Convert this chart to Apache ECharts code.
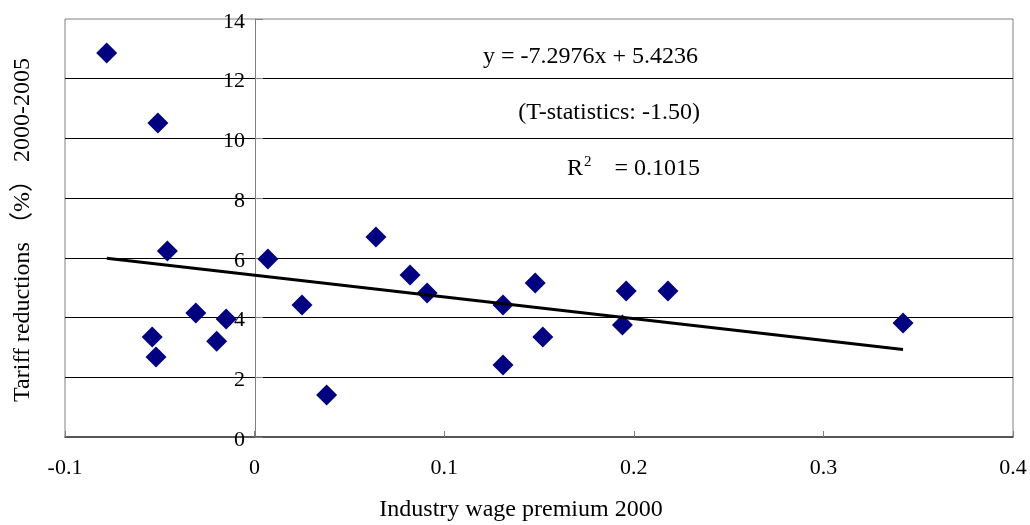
<!DOCTYPE html>
<html>
<head>
<meta charset="utf-8">
<script src="https://cdn.jsdelivr.net/npm/echarts@6/dist/echarts.min.js"></script>
<style>
  html, body { margin: 0; padding: 0; background: #fff; }
  #chart { width: 1030px; height: 525px; }
</style>
</head>
<body>
<div id="chart"></div>
<script>
// wage premium (x) and tariff reduction (y) per industry
var wagePremium = [-0.078, -0.051, -0.046, 0.007, 0.025, -0.031, -0.015, -0.054, -0.020, -0.052, 0.038,
  0.064, 0.082, 0.091, 0.131, 0.148, 0.152, 0.131, 0.196, 0.194, 0.218, 0.342]
var tariffCut = [12.86, 10.52, 6.23, 5.96, 4.42, 4.15, 3.95, 3.35, 3.21, 2.68, 1.41,
  6.70, 5.43, 4.82, 4.42, 5.16, 3.35, 2.41, 4.89, 3.75, 4.89, 3.82]
// trend line ends (y = -7.2976x + 5.4236)
var trendX = [-0.078, 0.342]
var trendY = [5.99, 2.93]
var xTicks = { min: -0.1, max: 0.4, step: 0.1 }
var yTicks = { min: 0, max: 14, step: 2 }

var serif = '"Liberation Serif", "Times New Roman", serif'
var myChart = echarts.init(document.getElementById('chart'))

var points = wagePremium.map(function (x, i) { return [x, tariffCut[i]] })
var trend = trendX.map(function (x, i) { return [x, trendY[i]] })

var option = {
  animation: false,
  grid: {
    left: 65,
    right: 17,
    top: 19,
    bottom: 88,
    show: true,
    borderColor: '#808080',
    borderWidth: 1
  },
  xAxis: {
    type: 'value',
    min: xTicks.min,
    max: xTicks.max,
    interval: xTicks.step,
    axisLine: { show: true, onZero: false, lineStyle: { color: '#333', width: 1.5 } },
    axisTick: { show: true, inside: true, length: 6, lineStyle: { color: '#808080' } },
    axisLabel: {
      margin: 20,
      color: '#000',
      fontFamily: serif,
      fontSize: 22
    },
    splitLine: { show: false }
  },
  yAxis: {
    type: 'value',
    min: yTicks.min,
    max: yTicks.max,
    interval: yTicks.step,
    // move the y axis over to x = 0
    offset: -190,
    axisLine: { show: true, onZero: false, lineStyle: { color: '#808080' } },
    axisTick: { show: true, inside: true, length: 8, lineStyle: { color: '#808080' } },
    axisLabel: {
      margin: 10,
      color: '#000',
      fontFamily: serif,
      fontSize: 22,
      // labels sit a little below their gridline
      verticalAlign: 'top',
      lineHeight: 6
    },
    splitLine: {
      show: true,
      showMinLine: false,
      showMaxLine: false,
      lineStyle: { color: '#000', width: 1 }
    }
  },
  graphic: [
    {
      type: 'text',
      x: 698,
      y: 57,
      style: {
        text: 'y = -7.2976x + 5.4236',
        font: '24px ' + serif,
        fill: '#000',
        align: 'right',
        verticalAlign: 'middle'
      }
    },
    {
      type: 'text',
      x: 700,
      y: 113,
      style: {
        text: '(T-statistics: -1.50)',
        font: '24px ' + serif,
        fill: '#000',
        align: 'right',
        verticalAlign: 'middle'
      }
    },
    {
      type: 'text',
      x: 700,
      y: 169,
      style: {
        text: '{a|R}{s|2}{a|   = 0.1015}',
        fill: '#000',
        align: 'right',
        verticalAlign: 'middle',
        rich: {
          a: { font: '24px ' + serif, fill: '#000', lineHeight: 28 },
          s: { font: '15px ' + serif, fill: '#000', lineHeight: 28, verticalAlign: 'top', padding: [0, 5, 0, 1] }
        }
      }
    },
    {
      type: 'text',
      x: 521,
      y: 510,
      style: {
        text: 'Industry wage premium 2000',
        font: '24px ' + serif,
        fill: '#000',
        align: 'center',
        verticalAlign: 'middle'
      }
    },
    {
      type: 'text',
      x: 23,
      y: 230,
      rotation: Math.PI / 2,
      style: {
        text: 'Tariff reductions （%） 2000-2005',
        font: '24px ' + serif + ', "Noto Sans CJK SC"',
        fill: '#000',
        align: 'center',
        verticalAlign: 'middle'
      }
    }
  ],
  series: [
    {
      name: 'industries',
      type: 'scatter',
      symbol: 'diamond',
      symbolSize: 21,
      itemStyle: { color: '#000080', opacity: 1 },
      data: points,
      z: 3
    },
    {
      name: 'trend',
      type: 'line',
      showSymbol: false,
      symbol: 'none',
      lineStyle: { color: '#000', width: 3 },
      data: trend,
      z: 4
    }
  ]
}
myChart.setOption(option)
</script>
</body>
</html>
